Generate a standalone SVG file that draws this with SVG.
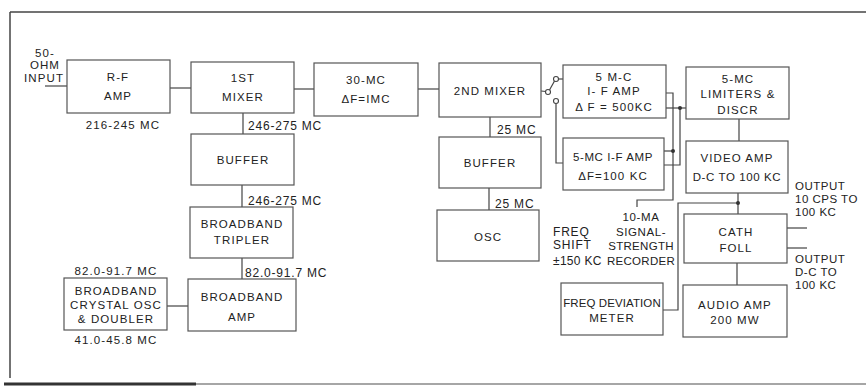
<svg xmlns="http://www.w3.org/2000/svg" width="866" height="386" viewBox="0 0 866 386">
<style>
  .box { fill: #ffffff; stroke: #555; stroke-width: 1.2; }
  .ln { fill: none; stroke: #444; stroke-width: 1.2; }
  .t { font-family: "Liberation Sans", Arial, sans-serif; font-size: 11.5px; letter-spacing: 1.1px; fill: #222; text-anchor: middle; }
  .s { font-family: "Liberation Sans", Arial, sans-serif; font-size: 12px; letter-spacing: 0.8px; fill: #222; }
  .o { font-family: "Liberation Sans", Arial, sans-serif; font-size: 11.5px; letter-spacing: 0.5px; fill: #222; }
  .dot { fill: #333; }
  .sw { fill: #fff; stroke: #444; stroke-width: 1.1; }
</style>
<rect width="866" height="386" fill="#fff"/>
<g id="frame">
  <line x1="10" y1="12" x2="866" y2="12" stroke="#444" stroke-width="1.5"/>
  <line x1="10" y1="12" x2="10" y2="378" stroke="#444" stroke-width="1.5"/>
  <line x1="4" y1="384" x2="196" y2="384" stroke="#333" stroke-width="3"/>
  <line x1="196" y1="384" x2="866" y2="384" stroke="#888" stroke-width="1.5"/>
</g>
<g id="connectors">
  <line class="ln" x1="45" y1="86" x2="67" y2="86"/>
  <line class="ln" x1="170" y1="88" x2="191" y2="88"/>
  <line class="ln" x1="294" y1="89" x2="314" y2="89"/>
  <line class="ln" x1="418" y1="89" x2="439" y2="89"/>
  <line class="ln" x1="243" y1="113" x2="243" y2="134"/>
  <line class="ln" x1="242" y1="185" x2="242" y2="207"/>
  <line class="ln" x1="242" y1="258" x2="242" y2="279"/>
  <line class="ln" x1="167" y1="306" x2="188" y2="306"/>
  <line class="ln" x1="490" y1="117" x2="490" y2="137"/>
  <line class="ln" x1="489" y1="188" x2="489" y2="210"/>
  <line class="ln" x1="541" y1="91" x2="546" y2="91.5"/>
  <line class="ln" x1="549.5" y1="90" x2="554.5" y2="81"/>
  <line class="ln" x1="558.5" y1="79" x2="563" y2="79"/>
  <polyline class="ln" points="556,103.5 556,163 563,163"/>
  <polyline class="ln" points="666,93 673,93 673,200 637,200 637,207"/>
  <line class="ln" x1="664" y1="151" x2="673" y2="151"/>
  <line class="ln" x1="666" y1="108" x2="686" y2="108"/>
  <polyline class="ln" points="664,165 680,165 680,108"/>
  <line class="ln" x1="739" y1="119" x2="739" y2="141"/>
  <line class="ln" x1="738" y1="193" x2="738" y2="214"/>
  <polyline class="ln" points="738,203 678,203 678,310 663,310"/>
  <line class="ln" x1="737" y1="263" x2="737" y2="285"/>
  <line class="ln" x1="787" y1="228" x2="807" y2="228"/>
  <line class="ln" x1="787" y1="248" x2="807" y2="248"/>
  <circle class="dot" cx="673" cy="151" r="2"/>
  <circle class="dot" cx="680" cy="108" r="2"/>
  <circle class="dot" cx="738" cy="203" r="2"/>
  <circle class="sw" cx="548" cy="92" r="2.5"/>
  <circle class="sw" cx="556" cy="79" r="2.5"/>
  <circle class="sw" cx="556" cy="101" r="2.5"/>
</g>
<g id="input-label">
  <text class="t" x="45" y="57">50-</text>
  <text class="t" x="45" y="69">OHM</text>
  <text class="t" x="44" y="82">INPUT</text>
</g>
<g id="rf-amp">
  <rect class="box" x="67" y="60" width="103" height="53"/>
  <text class="t" x="118" y="81">R-F</text>
  <text class="t" x="118" y="100">AMP</text>
  <text class="t" x="123" y="129">216-245 MC</text>
</g>
<g id="mixer1">
  <rect class="box" x="191" y="62" width="103" height="51"/>
  <text class="t" x="243" y="82">1ST</text>
  <text class="t" x="243" y="101">MIXER</text>
  <text class="s" x="248" y="130">246-275 MC</text>
</g>
<g id="buffer1">
  <rect class="box" x="191" y="134" width="103" height="51"/>
  <text class="t" x="243" y="164">BUFFER</text>
  <text class="s" x="248" y="205">246-275 MC</text>
</g>
<g id="tripler">
  <rect class="box" x="190" y="207" width="103" height="51"/>
  <text class="t" x="242" y="228">BROADBAND</text>
  <text class="t" x="242" y="244">TRIPLER</text>
  <text class="s" x="245" y="277">82.0-91.7 MC</text>
</g>
<g id="bb-amp">
  <rect class="box" x="188" y="279" width="108" height="52"/>
  <text class="t" x="242" y="301">BROADBAND</text>
  <text class="t" x="242" y="321">AMP</text>
</g>
<g id="crystal-osc">
  <rect class="box" x="64" y="278" width="103" height="52"/>
  <text class="t" x="116" y="295">BROADBAND</text>
  <text class="t" x="116" y="309">CRYSTAL OSC</text>
  <text class="t" x="116" y="323">&amp; DOUBLER</text>
  <text class="t" x="116" y="275">82.0-91.7 MC</text>
  <text class="t" x="116" y="344">41.0-45.8 MC</text>
</g>
<g id="if30">
  <rect class="box" x="314" y="63" width="104" height="53"/>
  <text class="t" x="366" y="84">30-MC</text>
  <text class="t" x="366" y="103">ΔF=IMC</text>
</g>
<g id="mixer2">
  <rect class="box" x="439" y="63" width="102" height="54"/>
  <text class="t" x="490" y="95">2ND MIXER</text>
  <text class="s" x="497" y="134">25 MC</text>
</g>
<g id="buffer2">
  <rect class="box" x="439" y="137" width="102" height="51"/>
  <text class="t" x="490" y="167">BUFFER</text>
  <text class="s" x="495" y="208">25 MC</text>
</g>
<g id="osc">
  <rect class="box" x="437" y="210" width="102" height="51"/>
  <text class="t" x="488" y="241">OSC</text>
</g>
<g id="if-500">
  <rect class="box" x="563" y="65" width="103" height="53"/>
  <text class="t" x="614" y="81">5 M-C</text>
  <text class="t" x="614" y="95">I- F AMP</text>
  <text class="t" x="614" y="111">Δ F = 500KC</text>
</g>
<g id="if-100">
  <rect class="box" x="563" y="138" width="101" height="52"/>
  <text class="t" x="613" y="161" style="letter-spacing:0.6px">5-MC I-F AMP</text>
  <text class="t" x="613" y="180">ΔF=100 KC</text>
</g>
<g id="limiters">
  <rect class="box" x="686" y="67" width="103" height="52"/>
  <text class="t" x="738" y="83">5-MC</text>
  <text class="t" x="738" y="98">LIMITERS &amp;</text>
  <text class="t" x="738" y="114">DISCR</text>
</g>
<g id="video-amp">
  <rect class="box" x="686" y="141" width="102" height="52"/>
  <text class="t" x="737" y="162">VIDEO AMP</text>
  <text class="t" x="737" y="181" style="letter-spacing:0.6px">D-C TO 100 KC</text>
</g>
<g id="cath-foll">
  <rect class="box" x="684" y="214" width="103" height="49"/>
  <text class="t" x="736" y="236">CATH</text>
  <text class="t" x="736" y="252">FOLL</text>
</g>
<g id="audio-amp">
  <rect class="box" x="683" y="285" width="104" height="52"/>
  <text class="t" x="735" y="309">AUDIO AMP</text>
  <text class="t" x="735" y="324">200 MW</text>
</g>
<g id="freq-dev">
  <rect class="box" x="561" y="283" width="102" height="52"/>
  <text class="t" x="612" y="307" style="letter-spacing:0.1px">FREQ DEVIATION</text>
  <text class="t" x="612" y="322">METER</text>
</g>
<g id="labels">
  <text class="s" x="553" y="236">FREQ</text>
  <text class="s" x="553" y="249">SHIFT</text>
  <text class="s" x="553" y="265" style="letter-spacing:0.3px">±150 KC</text>
  <text class="t" x="641" y="221" style="letter-spacing:0.6px">10-MA</text>
  <text class="t" x="641" y="236" style="letter-spacing:0.6px">SIGNAL-</text>
  <text class="t" x="641" y="250" style="letter-spacing:0.3px">STRENGTH</text>
  <text class="t" x="641" y="265" style="letter-spacing:0.3px">RECORDER</text>
  <text class="o" x="795" y="190">OUTPUT</text>
  <text class="o" x="795" y="203">10 CPS TO</text>
  <text class="o" x="795" y="216">100 KC</text>
  <text class="o" x="795" y="263">OUTPUT</text>
  <text class="o" x="795" y="276">D-C TO</text>
  <text class="o" x="795" y="289">100 KC</text>
</g>
</svg>
